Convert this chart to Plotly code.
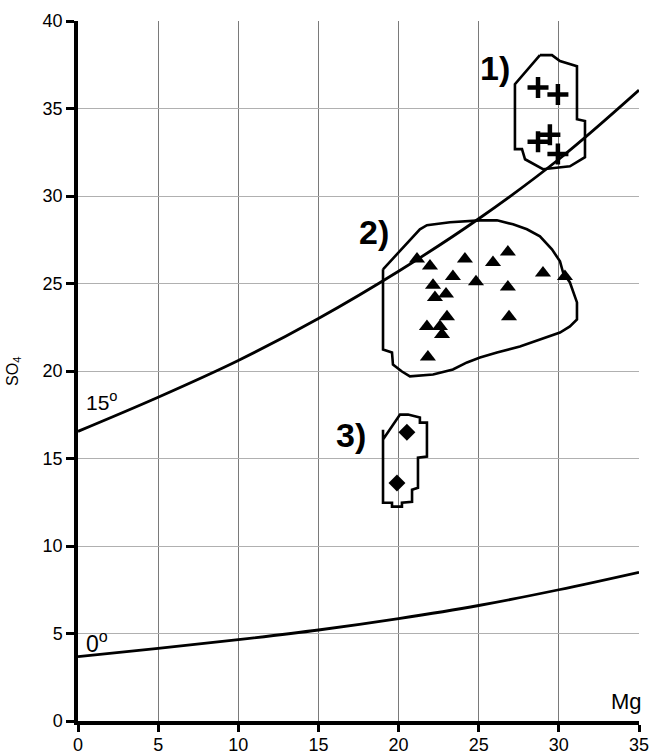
import plotly.graph_objects as go

# Temperature curves
curve_x = [0, 5, 10, 15, 20, 25, 30, 35]
curve15_y = [16.55, 18.5, 20.6, 23.0, 25.7, 28.7, 32.1, 36.05]
curve0_y = [3.68, 4.15, 4.65, 5.2, 5.85, 6.6, 7.5, 8.5]

# Group 1 (crosses)
g1_x = [28.70, 29.94, 29.44, 28.70, 29.94]
g1_y = [36.2, 35.8, 33.5, 33.1, 32.4]
poly1_x = [28.82, 29.57, 30.07, 31.13, 31.13, 31.63, 31.63, 30.69, 29.01, 27.89, 27.70, 27.26, 27.26, 28.82]
poly1_y = [38.05, 38.05, 37.71, 37.42, 34.39, 34.28, 32.22, 31.70, 31.53, 32.10, 32.68, 32.68, 36.39, 38.05]

# Group 2 (triangles)
g2_x = [21.15, 21.96, 24.14, 25.89, 26.82, 29.01, 30.38, 23.39, 24.83, 22.15, 26.82, 22.96, 22.27, 23.02, 26.89,
        21.77, 22.58, 22.71, 21.83]
g2_y = [26.4, 26.0, 26.4, 26.2, 26.8, 25.6, 25.4, 25.4, 25.1, 24.9, 24.8, 24.4, 24.2, 23.1, 23.1,
        22.55, 22.55, 22.09, 20.8]
poly2_x = [19.03, 21.33, 21.77, 23.21, 25.08, 26.14, 27.14, 28.01, 28.82, 29.57, 30.07, 30.26, 30.69, 31.13, 31.13,
           30.69, 30.07, 28.82, 27.57, 26.14, 25.08, 24.27, 23.39, 22.15, 20.71, 20.21, 19.65, 19.59, 19.03, 19.03]
poly2_y = [25.81, 28.10, 28.33, 28.50, 28.61, 28.61, 28.38, 28.10, 27.70, 26.95, 26.27, 25.64, 25.06, 23.92, 22.95,
           22.55, 22.20, 21.80, 21.40, 21.06, 20.77, 20.49, 20.09, 19.80, 19.69, 19.97, 20.37, 21.06, 21.23, 25.81]

# Group 3 (diamonds)
g3_x = [20.52, 19.90]
g3_y = [16.5, 13.6]
poly3_x = [19.03, 19.03, 20.09, 20.59, 21.33, 21.33, 21.77, 21.77, 21.21, 21.21, 20.84, 20.84, 20.21, 20.21,
           19.59, 19.59, 19.03, 19.03]
poly3_y = [16.65, 16.08, 17.51, 17.51, 17.34, 17.05, 17.05, 15.11, 15.05, 13.33, 13.22, 12.53, 12.47, 12.25,
           12.25, 12.47, 12.47, 16.65]

ticks_x = [0, 5, 10, 15, 20, 25, 30, 35]
ticks_y = [0, 5, 10, 15, 20, 25, 30, 35, 40]

FONT = "Liberation Sans, Arial, sans-serif"
line_style = dict(color="black", width=2.6)

fig = go.Figure()
fig.add_trace(go.Scatter(x=curve_x, y=curve15_y, mode="lines", line=dict(color="black", width=2.8, shape="spline")))
fig.add_trace(go.Scatter(x=curve_x, y=curve0_y, mode="lines", line=dict(color="black", width=2.8, shape="spline")))
fig.add_trace(go.Scatter(x=poly1_x, y=poly1_y, mode="lines", line=line_style))
fig.add_trace(go.Scatter(x=poly2_x, y=poly2_y, mode="lines", line=line_style))
fig.add_trace(go.Scatter(x=poly3_x, y=poly3_y, mode="lines", line=line_style))
fig.add_trace(go.Scatter(x=g1_x, y=g1_y, mode="markers",
                         marker=dict(symbol="cross-thin", size=15, color="black",
                                     line=dict(width=4.5, color="black"))))
fig.add_trace(go.Scatter(x=g2_x, y=g2_y, mode="markers",
                         marker=dict(symbol="triangle-up", size=14, color="black")))
fig.add_trace(go.Scatter(x=g3_x, y=g3_y, mode="markers",
                         marker=dict(symbol="diamond", size=13, color="black")))

annots = [
    dict(x=27.1, y=37.34, text="<b>1)</b>", font=dict(size=34), xanchor="right", yanchor="middle"),
    dict(x=19.5, y=27.97, text="<b>2)</b>", font=dict(size=34), xanchor="right", yanchor="middle"),
    dict(x=18.1, y=16.34, text="<b>3)</b>", font=dict(size=34), xanchor="right", yanchor="middle"),
    dict(x=0.4, y=18.3, text="15<sup>o</sup>", font=dict(size=21), xanchor="left", yanchor="middle"),
    dict(x=0.4, y=4.5, text="0<sup>o</sup>", font=dict(size=23), xanchor="left", yanchor="middle"),
    dict(x=35, y=0.3, xshift=5, text="Mg", font=dict(size=22), xanchor="right", yanchor="bottom"),
    dict(x=-0.116, y=20, xref="paper", text="SO<sub>4</sub>", font=dict(size=16), textangle=-90,
         xanchor="center", yanchor="middle"),
]
for a in annots:
    a.setdefault("xref", "x")
    a.update(showarrow=False, yref="y")
    a["font"].update(family=FONT, color="black")

fig.update_layout(
    width=652, height=754,
    margin=dict(l=78, r=13, t=21, b=33),
    paper_bgcolor="white", plot_bgcolor="white",
    showlegend=False,
    font=dict(family=FONT, color="black", size=18),
    annotations=annots,
    xaxis=dict(range=[0, 35], tickvals=ticks_x, showgrid=True, gridcolor="#7a7a7a", gridwidth=1,
               showline=True, linecolor="black", linewidth=3.5, ticks="outside", ticklen=7, tickwidth=2.5,
               tickcolor="black", zeroline=False, tickfont=dict(size=18), automargin=False,
               ticklabelstandoff=-2),
    yaxis=dict(range=[0, 40], tickvals=ticks_y, showgrid=True, gridcolor="#b0b0b0", gridwidth=1,
               showline=True, linecolor="black", linewidth=3.5, ticks="outside", ticklen=8, tickwidth=2.5,
               tickcolor="black", zeroline=False, tickfont=dict(size=18), automargin=False),
)

# Remove the browser's default 8px page margin so the figure fills the window exactly.
fig.write_html(
    "out.html",
    config={"displayModeBar": False},
    post_script="document.body.style.margin='0';document.body.style.overflow='hidden';",
)
